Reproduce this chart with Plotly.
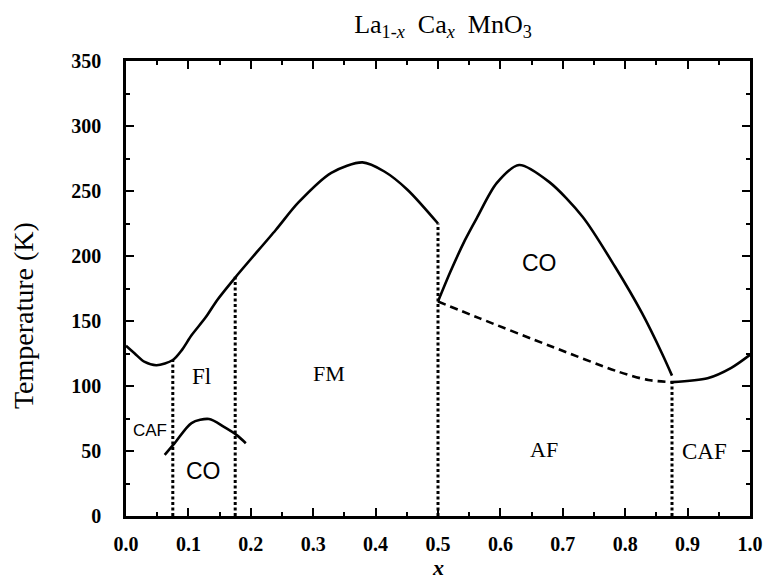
import plotly.graph_objects as go

# Phase boundaries of La(1-x)Ca(x)MnO3: composition x vs temperature (K)
fm_x = [0.0, 0.014, 0.03, 0.049, 0.075, 0.09, 0.105, 0.128, 0.146, 0.176, 0.24, 0.276, 0.329, 0.379, 0.414, 0.451, 0.5]
fm_T = [131, 125, 118.5, 116, 120, 128, 139, 153, 166, 184, 220, 241, 264, 272, 265, 251, 225]

co_x = [0.5, 0.52, 0.543, 0.562, 0.594, 0.63, 0.678, 0.732, 0.784, 0.827, 0.859, 0.875]
co_T = [165, 188, 212, 229, 256, 270, 257, 230, 191.5, 156, 125, 108]

af_x = [0.5, 0.567, 0.684, 0.789, 0.837, 0.875]
af_T = [165, 152, 130, 111, 104.6, 103]

caf_x = [0.875, 0.932, 0.97, 1.0]
caf_T = [103, 106, 114, 124]

colow_x = [0.062, 0.078, 0.105, 0.133, 0.157, 0.178, 0.192]
colow_T = [47, 56, 71.5, 74.6, 68.5, 62, 56]

# vertical boundaries: composition and the temperature where each ends
vline_x = [0.075, 0.175, 0.5, 0.875]
vline_top = [120, 184, 225, 104]

# region labels
reg_text = ["CAF", "Fl", "CO", "FM", "CO", "AF", "CAF"]
reg_x = [0.038, 0.121, 0.124, 0.325, 0.662, 0.67, 0.927]
reg_T = [66, 107, 35, 110, 195, 51, 50]
reg_font = ["Liberation Sans", "Liberation Serif", "Liberation Sans", "Liberation Serif",
            "Liberation Sans", "Liberation Serif", "Liberation Serif"]
reg_size = [17, 23, 23, 22, 23, 22, 23]

fig = go.Figure()

solid = dict(color="black", width=2.6, shape="spline", smoothing=0.8)
for xs, ts in [(fm_x, fm_T), (co_x, co_T), (caf_x, caf_T), (colow_x, colow_T)]:
    fig.add_trace(go.Scatter(x=xs, y=ts, mode="lines", line=solid, showlegend=False, hoverinfo="skip"))

fig.add_trace(go.Scatter(x=af_x, y=af_T, mode="lines",
                         line=dict(color="black", width=2.6, dash="8px,5px", shape="spline", smoothing=0.8),
                         showlegend=False, hoverinfo="skip"))

for vx, vt in zip(vline_x, vline_top):
    fig.add_trace(go.Scatter(x=[vx, vx], y=[0, vt], mode="lines",
                             line=dict(color="black", width=3, dash="3px,2.5px"),
                             showlegend=False, hoverinfo="skip"))

for t, x, y, f, s in zip(reg_text, reg_x, reg_T, reg_font, reg_size):
    fig.add_annotation(x=x, y=y, xref="x", yref="y", text=t, showarrow=False,
                       font=dict(family=f, size=s, color="black"))

# axis titles
fig.add_annotation(x=-0.163, y=0.44, xref="paper", yref="paper", text="Temperature (K)",
                   textangle=-90, showarrow=False, xanchor="center", yanchor="middle",
                   font=dict(family="Liberation Serif", size=28, color="black"))
fig.add_annotation(x=0.5, y=-0.113, xref="paper", yref="paper", text="<i><b>x</b></i>",
                   showarrow=False, xanchor="center", yanchor="middle",
                   font=dict(family="Liberation Serif", size=22, color="black"))

axis_common = dict(showline=True, linewidth=2.5, linecolor="black", mirror="allticks",
                   ticks="inside", ticklen=8, tickwidth=2, tickcolor="black",
                   showgrid=False, zeroline=False,
                   tickfont=dict(family="Liberation Serif", size=20, color="black", weight="bold"))

fig.update_xaxes(range=[0, 1], tick0=0, dtick=0.1, tickformat=".1f",
                 minor=dict(ticks="inside", ticklen=4, tickwidth=1.8, tickcolor="black", dtick=0.05),
                 ticklabelstandoff=8, **axis_common)
fig.update_yaxes(range=[0, 350], tick0=0, dtick=50,
                 minor=dict(ticks="inside", ticklen=4, tickwidth=1.8, tickcolor="black", dtick=25),
                 ticklabelstandoff=18, **axis_common)

title_text = ("La<sub>1-<i>x</i></sub>&nbsp;&nbsp;"
              "Ca<sub><i>x</i></sub>&nbsp;&nbsp;"
              "MnO<sub>3</sub>")

fig.update_layout(
    width=775, height=582,
    margin=dict(l=126, r=19, t=61, b=66),
    paper_bgcolor="white", plot_bgcolor="white",
    title=dict(text=title_text, x=0.5716, xanchor="center", y=0.975, yanchor="top",
               font=dict(family="Liberation Serif", size=26, color="black")),
)

fig.write_html("out.html")
